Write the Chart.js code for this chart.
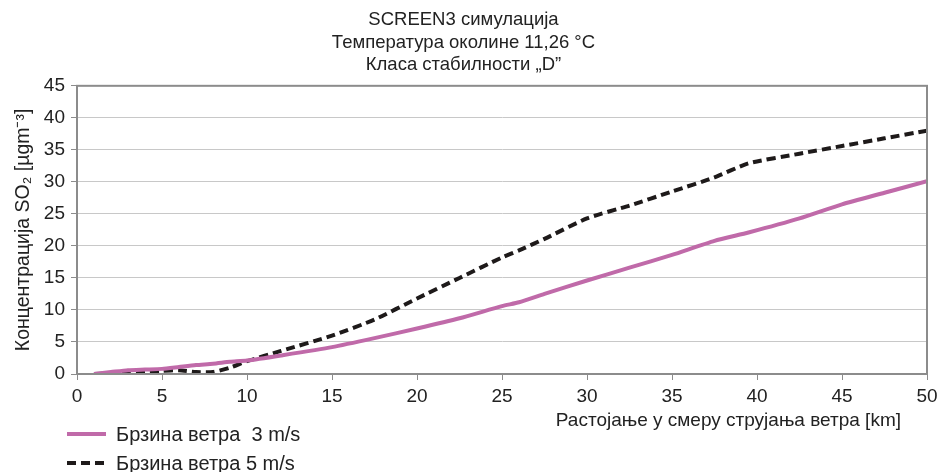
<!DOCTYPE html>
<html>
<head>
<meta charset="utf-8">
<script src="https://cdn.jsdelivr.net/npm/chart.js@4/dist/chart.umd.min.js"></script>
<style>
  html, body { margin: 0; padding: 0; background: #fff; }
  #wrap { width: 937px; height: 472px; }
</style>
</head>
<body>
<div id="wrap"><canvas id="c"></canvas></div>
<script>
  // растојање (km)
  const distances = [1, 2, 3, 4, 5, 6, 7, 8, 9, 10, 12, 15, 17.5, 20, 22.5, 25, 26, 27.5, 30, 32.5, 35, 37.5, 39.5, 42.5, 45, 47.5, 50];
  // брзина ветра 3 m/s
  const wind3 = [0, 0.3, 0.6, 0.7, 0.8, 1.1, 1.4, 1.6, 1.9, 2.1, 2.9, 4.2, 5.6, 7.1, 8.7, 10.6, 11.2, 12.5, 14.6, 16.6, 18.6, 20.8, 22.1, 24.3, 26.5, 28.3, 30.1];
  // брзина ветра 5 m/s
  const wind5 = [0, 0.1, 0.3, 0.4, 0.5, 0.6, 0.3, 0.3, 1.0, 2.0, 3.6, 6.0, 8.5, 11.8, 15.0, 18.2, 19.3, 21.1, 24.3, 26.3, 28.5, 30.7, 32.9, 34.4, 35.6, 36.8, 38.0];
  const seriesLabels = ["Брзина ветра  3 m/s", "Брзина ветра 5 m/s"];
  const titleLines = ["SCREEN3 симулација", "Температура околине 11,26 °C", "Класа стабилности „D”"];
  const xTitle = "Растојање у смеру струјања ветра [km]";
  const yTitle = "Концентрација SO₂ [µgm⁻³]";

  const FONT = "'Liberation Sans', Arial, sans-serif";
  const PINK = "#c06aa9";
  const DARK = "#1e1a1a";

  function toPoints(ys) {
    return distances.map((x, i) => ({ x: x, y: ys[i] }));
  }

  // оквир графикона + легенда + наслов x осе
  const extras = {
    id: "extras",
    afterDraw(chart) {
      const ctx = chart.ctx;
      const a = chart.chartArea;
      ctx.save();
      ctx.strokeStyle = "#8c8c8c";
      ctx.lineWidth = 2;
      ctx.strokeRect(a.left, a.top, a.right - a.left, a.bottom - a.top);

      ctx.fillStyle = "#222";
      ctx.font = "19px " + FONT;
      ctx.textBaseline = "middle";
      ctx.textAlign = "right";
      ctx.fillText(xTitle, 901, 421);

      ctx.textAlign = "left";
      ctx.font = "20px " + FONT;
      chart.data.datasets.forEach((ds, i) => {
        const y = 434 + i * 29;
        ctx.strokeStyle = ds.borderColor;
        ctx.lineWidth = 4;
        ctx.setLineDash(ds.borderDash || []);
        ctx.beginPath();
        ctx.moveTo(67, y);
        ctx.lineTo(106, y);
        ctx.stroke();
        ctx.setLineDash([]);
        ctx.fillStyle = "#222";
        ctx.fillText(ds.label, 116, y + 1);
      });
      ctx.restore();
    }
  };

  new Chart(document.getElementById("c"), {
    type: "line",
    data: {
      datasets: [
        {
          label: seriesLabels[0],
          data: toPoints(wind3),
          borderColor: PINK,
          backgroundColor: PINK,
          borderWidth: 4,
          pointRadius: 0,
          tension: 0.2,
        },
        {
          label: seriesLabels[1],
          data: toPoints(wind5),
          borderColor: DARK,
          backgroundColor: DARK,
          borderWidth: 4,
          borderDash: [9, 5],
          pointRadius: 0,
          tension: 0.2,
        },
      ],
    },
    options: {
      responsive: true,
      maintainAspectRatio: false,
      animation: false,
      layout: { padding: { left: 0, right: 10, top: 0, bottom: 0 } },
      plugins: {
        legend: { display: false },
        tooltip: { enabled: false },
        title: {
          display: true,
          text: titleLines,
          color: "#222",
          font: { family: FONT, size: 18.5, weight: "normal", lineHeight: 1.24 },
          padding: { top: 8, bottom: 9 },
        },
      },
      scales: {
        x: {
          type: "linear",
          min: 0,
          max: 50,
          ticks: { stepSize: 5, color: "#222", font: { family: FONT, size: 19 }, padding: 5, maxRotation: 0 },
          grid: { drawOnChartArea: false, drawTicks: true, tickLength: 6, color: "#8c8c8c", lineWidth: 1 },
          border: { color: "#8c8c8c", width: 2 },
          afterFit(scale) {
            scale.height = 98;
            scale.paddingLeft = 0;
            scale.paddingRight = 0;
          },
        },
        y: {
          min: 0,
          max: 45,
          ticks: { stepSize: 5, color: "#222", font: { family: FONT, size: 19 }, padding: 6 },
          grid: { color: "#c8c8c8", lineWidth: 1, tickLength: 6, tickColor: "#8c8c8c" },
          border: { color: "#8c8c8c", width: 2 },
          title: {
            display: true,
            text: yTitle,
            color: "#222",
            font: { family: FONT, size: 19.5, lineHeight: 1.2 },
            padding: { top: 12, bottom: 0 },
          },
          afterFit(scale) {
            scale.width = 77;
            scale.paddingTop = 0;
            scale.paddingBottom = 0;
          },
        },
      },
    },
    plugins: [extras],
  });
</script>
</body>
</html>
